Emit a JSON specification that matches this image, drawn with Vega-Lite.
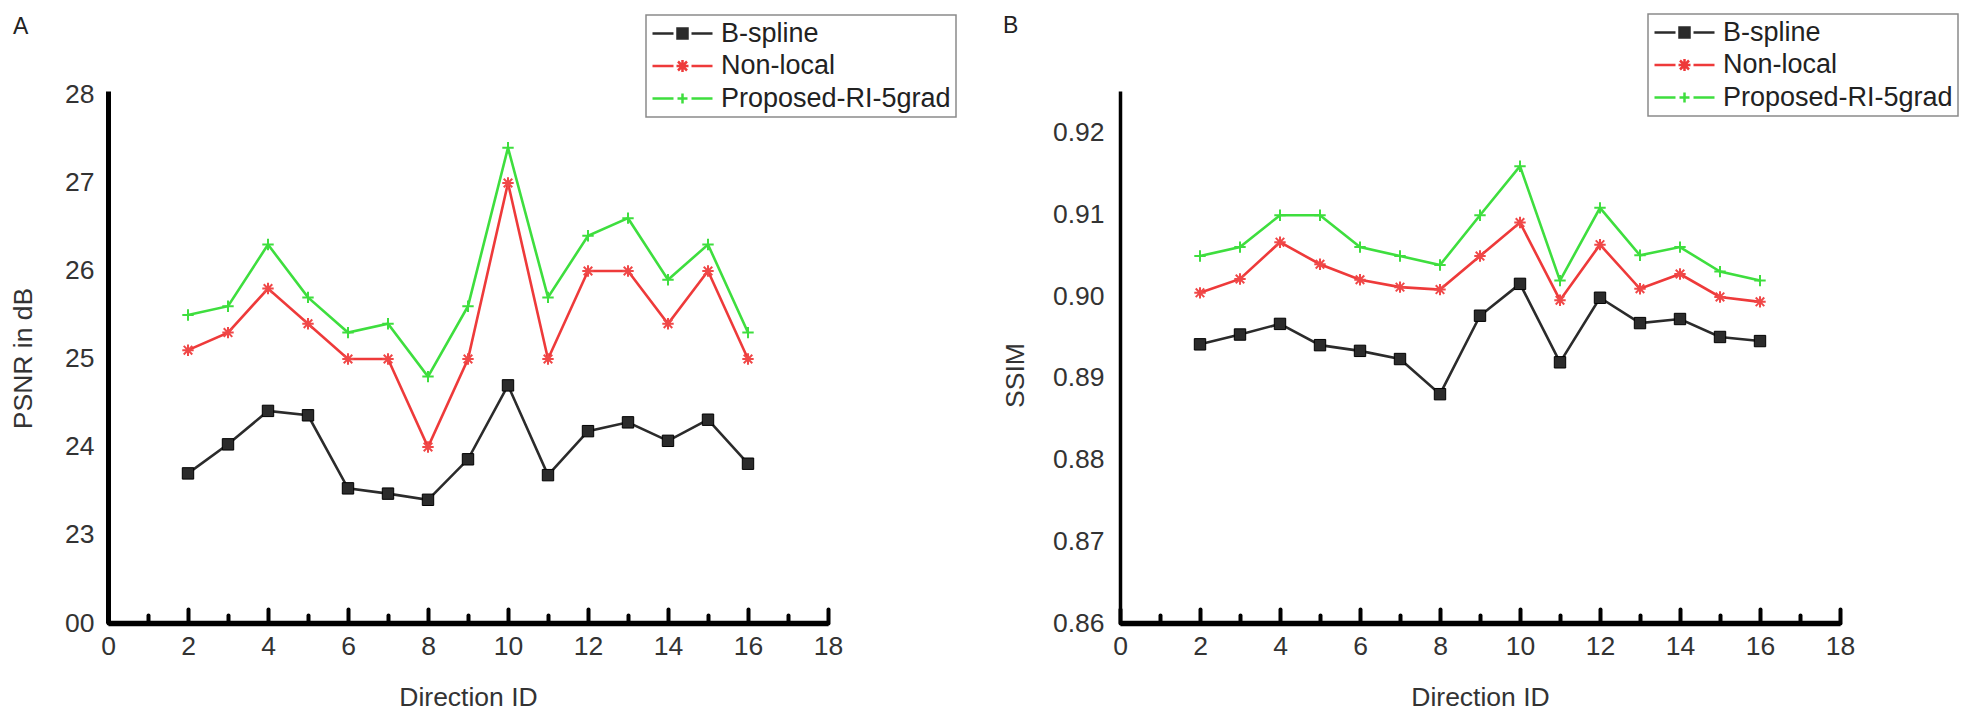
{
  "$schema": "https://vega.github.io/schema/vega-lite/v6.json",
  "background": "white",
  "padding": {"left": 10, "top": 13, "right": 0, "bottom": 0},
  "autosize": {"type": "pad"},
  "config": {
    "view": {"stroke": null},
    "font": "Liberation Sans",
    "axis": {
      "grid": false,
      "labelFontSize": 26.5,
      "labelColor": "#333333",
      "titleFontSize": 26.5,
      "titleFontWeight": "normal",
      "titleColor": "#333333",
      "domainColor": "black",
      "tickColor": "black",
      "labelFlush": false,
      "labelOverlap": false
    },
    "legend": {
      "orient": "none",
      "title": null,
      "labelFontSize": 27,
      "labelColor": "#222222",
      "labelLimit": 400,
      "padding": 5,
      "rowPadding": 4.5,
      "strokeColor": "#8a8a8a",
      "strokeWidth": 1.5,
      "fillColor": "white",
      "symbolSize": 400,
      "symbolStrokeWidth": 2.5,
      "symbolOffset": 18,
      "labelOffset": 25
    },
    "title": {"fontWeight": "normal", "fontSize": 23, "color": "#222222", "anchor": "start", "frame": "group", "offset": 0, "baseline": "alphabetic"}
  },
  "datasets": {
    "psnr": [
      {"id": 2, "series": "B-spline", "value": 23.70},
      {"id": 3, "series": "B-spline", "value": 24.03},
      {"id": 4, "series": "B-spline", "value": 24.41},
      {"id": 5, "series": "B-spline", "value": 24.36},
      {"id": 6, "series": "B-spline", "value": 23.53},
      {"id": 7, "series": "B-spline", "value": 23.47},
      {"id": 8, "series": "B-spline", "value": 23.40},
      {"id": 9, "series": "B-spline", "value": 23.86},
      {"id": 10, "series": "B-spline", "value": 24.70},
      {"id": 11, "series": "B-spline", "value": 23.68},
      {"id": 12, "series": "B-spline", "value": 24.18},
      {"id": 13, "series": "B-spline", "value": 24.28},
      {"id": 14, "series": "B-spline", "value": 24.07},
      {"id": 15, "series": "B-spline", "value": 24.31},
      {"id": 16, "series": "B-spline", "value": 23.81},
      {"id": 2, "series": "Non-local", "value": 25.1},
      {"id": 3, "series": "Non-local", "value": 25.3},
      {"id": 4, "series": "Non-local", "value": 25.8},
      {"id": 5, "series": "Non-local", "value": 25.4},
      {"id": 6, "series": "Non-local", "value": 25.0},
      {"id": 7, "series": "Non-local", "value": 25.0},
      {"id": 8, "series": "Non-local", "value": 24.0},
      {"id": 9, "series": "Non-local", "value": 25.0},
      {"id": 10, "series": "Non-local", "value": 27.0},
      {"id": 11, "series": "Non-local", "value": 25.0},
      {"id": 12, "series": "Non-local", "value": 26.0},
      {"id": 13, "series": "Non-local", "value": 26.0},
      {"id": 14, "series": "Non-local", "value": 25.4},
      {"id": 15, "series": "Non-local", "value": 26.0},
      {"id": 16, "series": "Non-local", "value": 25.0},
      {"id": 2, "series": "Proposed-RI-5grad", "value": 25.5},
      {"id": 3, "series": "Proposed-RI-5grad", "value": 25.6},
      {"id": 4, "series": "Proposed-RI-5grad", "value": 26.3},
      {"id": 5, "series": "Proposed-RI-5grad", "value": 25.7},
      {"id": 6, "series": "Proposed-RI-5grad", "value": 25.3},
      {"id": 7, "series": "Proposed-RI-5grad", "value": 25.4},
      {"id": 8, "series": "Proposed-RI-5grad", "value": 24.8},
      {"id": 9, "series": "Proposed-RI-5grad", "value": 25.6},
      {"id": 10, "series": "Proposed-RI-5grad", "value": 27.4},
      {"id": 11, "series": "Proposed-RI-5grad", "value": 25.7},
      {"id": 12, "series": "Proposed-RI-5grad", "value": 26.4},
      {"id": 13, "series": "Proposed-RI-5grad", "value": 26.6},
      {"id": 14, "series": "Proposed-RI-5grad", "value": 25.9},
      {"id": 15, "series": "Proposed-RI-5grad", "value": 26.3},
      {"id": 16, "series": "Proposed-RI-5grad", "value": 25.3}
    ],
    "ssim": [
      {"id": 2, "series": "B-spline", "value": 0.8941},
      {"id": 3, "series": "B-spline", "value": 0.8953},
      {"id": 4, "series": "B-spline", "value": 0.8966},
      {"id": 5, "series": "B-spline", "value": 0.8940},
      {"id": 6, "series": "B-spline", "value": 0.8933},
      {"id": 7, "series": "B-spline", "value": 0.8923},
      {"id": 8, "series": "B-spline", "value": 0.8880},
      {"id": 9, "series": "B-spline", "value": 0.8976},
      {"id": 10, "series": "B-spline", "value": 0.9015},
      {"id": 11, "series": "B-spline", "value": 0.8919},
      {"id": 12, "series": "B-spline", "value": 0.8998},
      {"id": 13, "series": "B-spline", "value": 0.8967},
      {"id": 14, "series": "B-spline", "value": 0.8972},
      {"id": 15, "series": "B-spline", "value": 0.8950},
      {"id": 16, "series": "B-spline", "value": 0.8945},
      {"id": 2, "series": "Non-local", "value": 0.9004},
      {"id": 3, "series": "Non-local", "value": 0.9021},
      {"id": 4, "series": "Non-local", "value": 0.9066},
      {"id": 5, "series": "Non-local", "value": 0.9039},
      {"id": 6, "series": "Non-local", "value": 0.9020},
      {"id": 7, "series": "Non-local", "value": 0.9011},
      {"id": 8, "series": "Non-local", "value": 0.9008},
      {"id": 9, "series": "Non-local", "value": 0.9049},
      {"id": 10, "series": "Non-local", "value": 0.9090},
      {"id": 11, "series": "Non-local", "value": 0.8995},
      {"id": 12, "series": "Non-local", "value": 0.9063},
      {"id": 13, "series": "Non-local", "value": 0.9009},
      {"id": 14, "series": "Non-local", "value": 0.9027},
      {"id": 15, "series": "Non-local", "value": 0.8999},
      {"id": 16, "series": "Non-local", "value": 0.8993},
      {"id": 2, "series": "Proposed-RI-5grad", "value": 0.9049},
      {"id": 3, "series": "Proposed-RI-5grad", "value": 0.9060},
      {"id": 4, "series": "Proposed-RI-5grad", "value": 0.9099},
      {"id": 5, "series": "Proposed-RI-5grad", "value": 0.9099},
      {"id": 6, "series": "Proposed-RI-5grad", "value": 0.9060},
      {"id": 7, "series": "Proposed-RI-5grad", "value": 0.9049},
      {"id": 8, "series": "Proposed-RI-5grad", "value": 0.9038},
      {"id": 9, "series": "Proposed-RI-5grad", "value": 0.9099},
      {"id": 10, "series": "Proposed-RI-5grad", "value": 0.9159},
      {"id": 11, "series": "Proposed-RI-5grad", "value": 0.9019},
      {"id": 12, "series": "Proposed-RI-5grad", "value": 0.9108},
      {"id": 13, "series": "Proposed-RI-5grad", "value": 0.9050},
      {"id": 14, "series": "Proposed-RI-5grad", "value": 0.9060},
      {"id": 15, "series": "Proposed-RI-5grad", "value": 0.9030},
      {"id": 16, "series": "Proposed-RI-5grad", "value": 0.9019}
    ]
  },
  "hconcat": [
    {
      "width": 720,
      "height": 532,
      "title": {"text": "A", "dx": -95, "dy": 29},
      "data": {"name": "psnr"},
      "encoding": {
        "x": {
          "field": "id", "type": "quantitative",
          "scale": {"domain": [0, 18], "nice": false},
          "axis": {
            "title": "Direction ID",
            "values": [0, 1, 2, 3, 4, 5, 6, 7, 8, 9, 10, 11, 12, 13, 14, 15, 16, 17, 18],
            "labelExpr": "datum.value % 2 == 0 ? datum.label : ''",
            "tickSize": {"condition": {"test": "datum.value % 2 == 0", "value": -14}, "value": -8},
            "tickWidth": 4,
            "tickCap": "round",
            "domainWidth": 5.5,
            "labelPadding": 45,
            "labelBaseline": "alphabetic",
            "titleY": 82,
            "titleBaseline": "alphabetic"
          }
        },
        "y": {
          "field": "value", "type": "quantitative",
          "scale": {"domain": [22, 28.045], "nice": false, "zero": false},
          "axis": {
            "title": "PSNR in dB",
            "values": [22, 23, 24, 25, 26, 27, 28],
            "labelExpr": "datum.value == 22 ? '00' : datum.label",
            "ticks": false,
            "domainWidth": 5,
            "labelPadding": 14,
            "titleX": -85,
            "titleY": 267,
            "titleBaseline": "middle",
            "titleAlign": "center"
          }
        },
        "color": {
          "field": "series", "type": "nominal",
          "scale": {"domain": ["B-spline", "Non-local", "Proposed-RI-5grad"], "range": ["#2b2b2b", "#ee3a3a", "#3ede3e"]},
          "legend": {
            "legendX": 538,
            "legendY": -76,
            "encode": {
              "symbols": {
                "update": {
                  "shape": {"signal": "datum.value == 'B-spline' ? 'M-3,0H-0.9M0.9,0H3M-0.5,-0.5H0.5V0.5H-0.5Z' : datum.value == 'Non-local' ? 'M-3,0H-0.9M0.9,0H3M0,-0.6V0.6M-0.6,0H0.6M-0.45,-0.45L0.45,0.45M-0.45,0.45L0.45,-0.45' : 'M-3,0H-0.9M0.9,0H3M0,-0.5V0.5M-0.5,0H0.5'"},
                  "fill": {"signal": "datum.value == 'B-spline' ? '#000000' : 'transparent'"},
                  "stroke": {"signal": "datum.value == 'B-spline' ? '#2b2b2b' : datum.value == 'Non-local' ? '#ee3a3a' : '#3ede3e'"},
                  "size": {"value": 400},
                  "strokeWidth": {"value": 2.5},
                  "opacity": {"value": 1}
                }
              }
            }
          }
        }
      },
      "layer": [
        {"mark": {"type": "line", "strokeWidth": 2.6}},
        {
          "transform": [{"filter": "datum.series == 'B-spline'"}],
          "mark": {"type": "point", "shape": "square", "filled": true, "size": 130, "stroke": "#000000", "strokeWidth": 1, "opacity": 1}
        },
        {
          "transform": [{"filter": "datum.series == 'Non-local'"}],
          "mark": {"type": "point", "shape": "M0,-1V1M-1,0H1M-0.75,-0.75L0.75,0.75M-0.75,0.75L0.75,-0.75", "filled": true, "size": 130, "stroke": "#f04848", "strokeWidth": 2, "opacity": 1}
        },
        {
          "transform": [{"filter": "datum.series == 'Proposed-RI-5grad'"}],
          "mark": {"type": "point", "shape": "M0,-1V1M-1,0H1", "filled": true, "size": 130, "stroke": "#3ede3e", "strokeWidth": 2, "opacity": 1}
        }
      ]
    },
    {
      "width": 720,
      "height": 532,
      "title": {"text": "B", "dx": -117, "dy": 29},
      "data": {"name": "ssim"},
      "encoding": {
        "x": {
          "field": "id", "type": "quantitative",
          "scale": {"domain": [0, 18], "nice": false},
          "axis": {
            "title": "Direction ID",
            "values": [0, 1, 2, 3, 4, 5, 6, 7, 8, 9, 10, 11, 12, 13, 14, 15, 16, 17, 18],
            "labelExpr": "datum.value % 2 == 0 ? datum.label : ''",
            "tickSize": {"condition": {"test": "datum.value % 2 == 0", "value": -14}, "value": -8},
            "tickWidth": 4,
            "tickCap": "round",
            "domainWidth": 5.5,
            "labelPadding": 45,
            "labelBaseline": "alphabetic",
            "titleY": 82,
            "titleBaseline": "alphabetic"
          }
        },
        "y": {
          "field": "value", "type": "quantitative",
          "scale": {"domain": [0.86, 0.9251], "nice": false, "zero": false},
          "axis": {
            "title": "SSIM",
            "values": [0.86, 0.87, 0.88, 0.89, 0.9, 0.91, 0.92],
            "format": ".2f",
            "ticks": false,
            "domainWidth": 3.5,
            "labelPadding": 16,
            "titleX": -105,
            "titleY": 284,
            "titleBaseline": "middle",
            "titleAlign": "center"
          }
        },
        "color": {
          "field": "series", "type": "nominal",
          "scale": {"domain": ["B-spline", "Non-local", "Proposed-RI-5grad"], "range": ["#2b2b2b", "#ee3a3a", "#3ede3e"]},
          "legend": {
            "legendX": 528,
            "legendY": -77,
            "encode": {
              "symbols": {
                "update": {
                  "shape": {"signal": "datum.value == 'B-spline' ? 'M-3,0H-0.9M0.9,0H3M-0.5,-0.5H0.5V0.5H-0.5Z' : datum.value == 'Non-local' ? 'M-3,0H-0.9M0.9,0H3M0,-0.6V0.6M-0.6,0H0.6M-0.45,-0.45L0.45,0.45M-0.45,0.45L0.45,-0.45' : 'M-3,0H-0.9M0.9,0H3M0,-0.5V0.5M-0.5,0H0.5'"},
                  "fill": {"signal": "datum.value == 'B-spline' ? '#000000' : 'transparent'"},
                  "stroke": {"signal": "datum.value == 'B-spline' ? '#2b2b2b' : datum.value == 'Non-local' ? '#ee3a3a' : '#3ede3e'"},
                  "size": {"value": 400},
                  "strokeWidth": {"value": 2.5},
                  "opacity": {"value": 1}
                }
              }
            }
          }
        }
      },
      "layer": [
        {"mark": {"type": "line", "strokeWidth": 2.6}},
        {
          "transform": [{"filter": "datum.series == 'B-spline'"}],
          "mark": {"type": "point", "shape": "square", "filled": true, "size": 130, "stroke": "#000000", "strokeWidth": 1, "opacity": 1}
        },
        {
          "transform": [{"filter": "datum.series == 'Non-local'"}],
          "mark": {"type": "point", "shape": "M0,-1V1M-1,0H1M-0.75,-0.75L0.75,0.75M-0.75,0.75L0.75,-0.75", "filled": true, "size": 130, "stroke": "#f04848", "strokeWidth": 2, "opacity": 1}
        },
        {
          "transform": [{"filter": "datum.series == 'Proposed-RI-5grad'"}],
          "mark": {"type": "point", "shape": "M0,-1V1M-1,0H1", "filled": true, "size": 130, "stroke": "#3ede3e", "strokeWidth": 2, "opacity": 1}
        }
      ]
    }
  ],
  "resolve": {
    "scale": {"color": "independent"},
    "legend": {"color": "independent"}
  },
  "spacing": 292,
  "bounds": "flush"
}
